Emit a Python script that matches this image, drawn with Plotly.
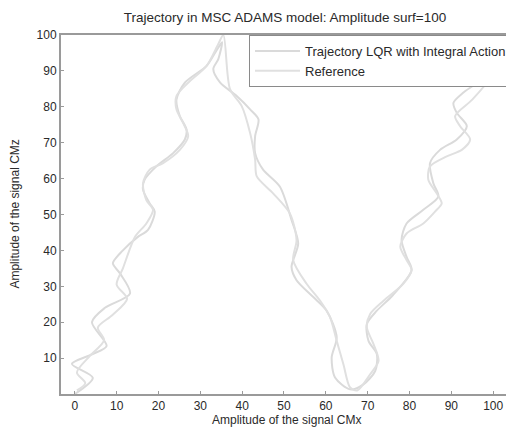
import plotly.graph_objects as go

# Trajectory LQR with Integral Action
traj_x = [0, 4.3, -0.7, 4.0, 7.6, 4.1, 7.2, 13.2, 10.8, 9.1, 11.5, 15.0, 17.5, 19.1, 17.9, 16.3,
          16.7, 19.5, 23.5, 26.3, 26.7, 25.1, 24.3, 26.3, 31.5, 33.5, 35.2, 34.3, 33.1, 34.7, 38.7,
          41.9, 43.9, 43.1, 43.1, 45.0, 49.0, 51.8, 53.4, 51.8, 53.0, 57.0, 60.2, 62.6, 61.4, 62.2,
          65.8, 69.0, 71.8, 72.2, 70.2, 69.8, 72.2, 76.0, 80.5, 79.3, 78.1, 79.3, 83.3, 86.9, 85.7,
          84.9, 87.3, 91.3, 93.7, 91.3, 90.5, 92.9, 96.1, 99.0, 101.0]
traj_y = [0, 4.5, 8.4, 11.0, 13.4, 20.0, 24.0, 28.0, 33.6, 36.4, 40.0, 43.7, 45.7, 50.8, 53.1, 56.9,
          59.7, 63.4, 67.1, 70.9, 73.7, 77.4, 82.0, 86.7, 91.4, 95.0, 98.0, 93.3, 90.5, 86.8, 83.0,
          79.3, 76.5, 71.8, 67.1, 62.5, 57.8, 48.5, 41.9, 35.4, 31.7, 27.0, 23.2, 15.8, 10.2, 4.6,
          1.3, 2.7, 6.4, 11.1, 14.8, 19.5, 23.2, 27.5, 34.5, 38.2, 42.9, 47.5, 51.3, 55.0, 58.7,
          64.3, 68.0, 70.9, 74.6, 78.3, 81.1, 84.0, 86.7, 91.0, 96.0]

# Reference
ref_x = [0.5, 2.5, 0.5, 3.6, 7.0, 5.5, 9.0, 12.5, 10.0, 11.5, 14.4, 17.1, 18.7, 17.1, 16.3, 17.9,
         21.1, 25.1, 27.1, 25.9, 24.3, 24.3, 27.1, 31.5, 34.3, 35.5, 37.1, 39.9, 41.9, 43.1, 43.5,
         47.4, 51.4, 53.0, 52.2, 55.4, 58.6, 61.0, 62.6, 64.2, 65.8, 67.5, 70.6, 72.6, 71.4, 69.8,
         70.6, 73.8, 78.5, 80.5, 79.3, 77.8, 79.3, 83.3, 86.1, 87.7, 86.5, 84.5, 84.9, 88.9, 92.5,
         94.5, 92.1, 90.9, 95.0, 100.0, 103.0]
ref_y = [1.0, 3.0, 6.0, 10.6, 15.0, 18.5, 22.0, 26.5, 30.5, 35.0, 43.8, 47.5, 51.3, 54.0, 58.7,
         62.5, 64.3, 68.0, 71.8, 75.5, 79.3, 83.0, 86.7, 91.4, 97.5, 100.0, 84.9, 80.2, 72.7, 65.3,
         60.6, 55.9, 50.3, 42.9, 37.3, 30.7, 26.0, 21.4, 14.8, 8.3, 1.8, 1.0, 5.5, 9.2, 13.9, 18.6,
         22.3, 26.0, 30.7, 34.5, 37.3, 41.0, 44.7, 47.5, 50.8, 53.1, 55.9, 59.7, 63.4, 66.2, 68.0,
         70.9, 74.6, 77.4, 82.0, 89.0, 95.0]

x_ticks = [0, 10, 20, 30, 40, 50, 60, 70, 80, 90, 100]
y_ticks = [10, 20, 30, 40, 50, 60, 70, 80, 90, 100]

FONT = "Liberation Sans, Arial, sans-serif"
fig = go.Figure()
fig.add_trace(go.Scatter(x=traj_x, y=traj_y, mode="lines", name="Trajectory LQR with Integral Action",
                         line=dict(color="#dadada", width=2, shape="spline", smoothing=0.8)))
fig.add_trace(go.Scatter(x=ref_x, y=ref_y, mode="lines", name="Reference",
                         line=dict(color="#e0e0e0", width=2, shape="spline", smoothing=0.8)))

axis_common = dict(showgrid=False, zeroline=False, showline=True, linecolor="#9a9a9a", linewidth=2,
                   mirror=True, ticks="inside", ticklen=3, tickcolor="#9a9a9a", automargin=False,
                   tickfont=dict(family=FONT, size=12, color="#2a2a2a"))
fig.update_xaxes(range=[-3.3, 104.5], tickvals=x_ticks, **axis_common)
fig.update_yaxes(range=[0, 100], tickvals=y_ticks, **axis_common)

fig.add_annotation(text="Amplitude of the signal CMx", xref="paper", yref="paper",
                   x=0.5, y=-0.0724, xanchor="center", yanchor="middle", showarrow=False,
                   font=dict(family=FONT, size=12, color="#2a2a2a"))
fig.add_annotation(text="Amplitude of the signal CMz", xref="paper", yref="paper",
                   x=-0.104, y=0.5, xanchor="center", yanchor="middle", showarrow=False,
                   textangle=-90, font=dict(family=FONT, size=12, color="#2a2a2a"))

# page body has an 8px margin, so the figure is sized/offset to compensate
W, H = 506, 420
fig.update_layout(
    width=W, height=H,
    margin=dict(l=53, r=2, t=27, b=34),
    paper_bgcolor="white", plot_bgcolor="white",
    title=dict(text="Trajectory in MSC ADAMS model: Amplitude surf=100", x=277 / W, xanchor="center",
               y=1 - 9 / H, yanchor="middle",
               font=dict(family=FONT, size=13.5, color="#2a2a2a")),
    legend=dict(x=1, y=1, xanchor="right", yanchor="top", bgcolor="white",
                bordercolor="#8a8a8a", borderwidth=1,
                font=dict(family=FONT, size=13, color="#2a2a2a"),
                itemwidth=45, tracegroupgap=0),
    showlegend=True,
)

fig.write_html("out.html")
